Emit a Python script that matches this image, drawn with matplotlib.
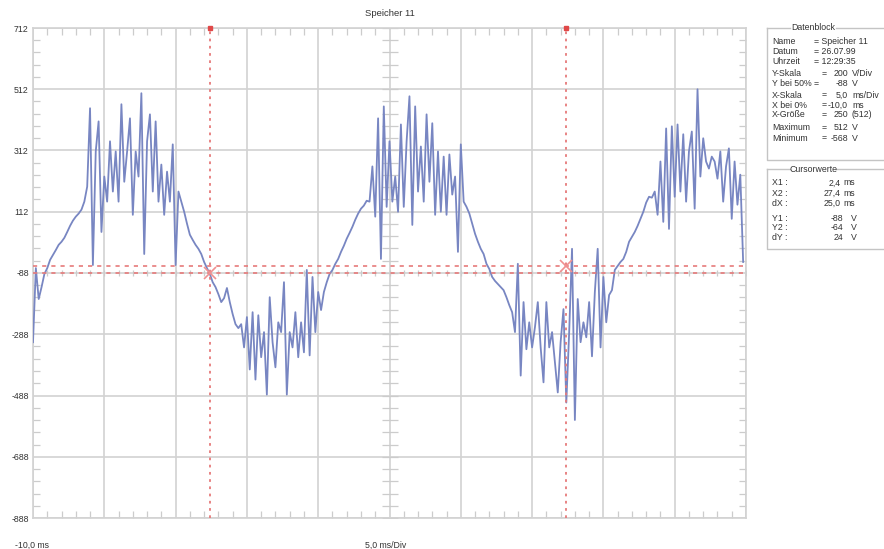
import matplotlib
matplotlib.use("Agg")
import matplotlib.pyplot as plt
import numpy as np

plt.rcParams["font.family"] = ["Liberation Sans", "DejaVu Sans"]

# scope settings
t_start = -10.0      # ms at left edge
t_div = 5.0          # ms per division
v_div = 200          # V per division
v_mid = -88          # V at 50 %
dt = 0.2             # ms per sample

# stored trace, 250 samples (V)
volts = [
    -314, -72, -173, -134, -91, -72, -45, -29, -13, 4,
    14, 27, 46, 66, 83, 96, 106, 119, 145, 194,
    450, -62, 309, 407, 46, 227, 145, 342, 178, 309,
    145, 463, 210, 309, 417, 102, 309, 227, 499, -26,
    342, 430, 178, 407, 145, 266, 102, 243, 145, 332,
    -62, 178, 145, 112, 73, 37, 20, 4, -9, -26,
    -52, -72, -91, -118, -134, -157, -183, -170, -137, -183,
    -222, -255, -268, -255, -331, -232, -403, -216, -436, -226,
    -363, -281, -485, -167, -314, -396, -249, -281, -118, -485,
    -281, -331, -216, -363, -249, -347, -78, -357, -101, -281,
    -150, -209, -150, -118, -91, -78, -58, -42, -19, 1,
    24, 43, 63, 86, 106, 122, 132, 148, 145, 260,
    96, 417, -42, 456, 128, 342, 145, 227, 112, 397,
    128, 342, 489, 69, 456, 178, 325, 145, 430, 210,
    401, 102, 309, 112, 292, 102, 299, 168, 227, -19,
    332, 145, 128, 106, 73, 40, 14, -9, -26, -58,
    -75, -101, -114, -124, -134, -144, -167, -193, -216, -281,
    -58, -423, -183, -337, -249, -331, -265, -183, -331, -445,
    -183, -331, -281, -380, -478, -314, -206, -511, -281, -9,
    -568, -173, -314, -249, -298, -183, -360, -150, -9, -331,
    -101, -249, -160, -144, -78, -65, -52, -42, -19, 14,
    30, 46, 66, 89, 112, 142, 161, 158, 178, 102,
    276, 79, 384, 56, 391, 161, 397, 178, 365, 145,
    309, 374, 122, 512, 227, 352, 276, 253, 292, 276,
    220, 309, 145, 260, 319, 89, 276, 135, 233, -52,
]

# cursors
x1, x2 = 2.4, 27.4
y1, y2 = -88, -64

# data block rows
block_rows = [
    ("Name", "= Speicher 11", "", ""),
    ("Datum", "= 26.07.99", "", ""),
    ("Uhrzeit", "= 12:29:35", "", ""),
    ("Y-Skala", "=", "200", "V/Div"),
    ("Y bei 50% =", "", "-88", "V"),
    ("X-Skala", "=", "5,0", "ms/Div"),
    ("X bei 0%", "=", "-10,0", "ms"),
    ("X-Größe", "=", "250", "(512)"),
    ("Maximum", "=", "512", "V"),
    ("Minimum", "=", "-568", "V"),
]

W, H = 884, 549
t = t_start + dt * np.arange(len(volts))
t_end = t_start + 10 * t_div
v_lo, v_hi = v_mid - 4 * v_div, v_mid + 4 * v_div


def fx(px):
    return px / W


def fy(py):
    return 1 - py / H


fig = plt.figure(figsize=(W / 100, H / 100), dpi=100)
ax = fig.add_axes([fx(33), fy(518), (746 - 33) / W, (518 - 28) / H])
ax.set_xlim(t_start, t_end)
ax.set_ylim(v_lo, v_hi)

grid_c = "#d2d2d2"
tick_c = "#cccccc"
txt_c = "#333333"
fs = 6.3

ax.set_xticks(np.arange(t_start, t_end + 0.01, t_div))
ax.set_yticks(np.arange(v_lo, v_hi + 1, v_div))
ax.set_xticks(np.arange(t_start, t_end + 0.01, t_div / 5), minor=True)
ax.set_yticks(np.arange(v_lo, v_hi + 1, v_div / 5), minor=True)
ax.set_xticklabels([])
ax.set_yticklabels([str(int(v)) for v in np.arange(v_lo, v_hi + 1, v_div)])
ax.tick_params(which="major", length=0, pad=3, labelsize=fs, labelcolor=txt_c)
ax.tick_params(which="minor", direction="in", length=5, width=0.9, color=tick_c,
               top=True, right=True)
ax.grid(True, which="major", color=grid_c, lw=1.2)
for s in ax.spines.values():
    s.set_color(grid_c)
    s.set_linewidth(1.2)

# small ticks along the centre lines
t_mid = t_start + 5 * t_div
xm = np.arange(t_start, t_end + 0.01, t_div / 5)
ym = np.arange(v_lo, v_hi + 1, v_div / 5)
ax.plot(xm, np.full(len(xm), v_mid), ls="none", marker="|", ms=5, mew=0.9, color=tick_c)
ax.plot(np.full(len(ym), t_mid), ym, ls="none", marker="_", ms=11, mew=0.9, color=tick_c)

# trace
ax.plot(t, volts, color="#7886c2", lw=1.3, zorder=3)

# cursor lines
cur_c = "#e67a7a"
for xc in (x1, x2):
    ax.axvline(xc, color=cur_c, ls=(0, (1.5, 2.5)), lw=1.3, zorder=4)
    ax.plot([xc], [v_hi], marker="s", ms=3, color="#e04848", clip_on=False, zorder=5)
for yc in (y1, y2):
    ax.axhline(yc, color=cur_c, ls=(0, (2.5, 3)), lw=1.2, zorder=4)
ax.plot([x1, x2], [y1, y2], ls="none", marker="x", ms=8, mew=1.2, color="#f09090", zorder=5)

fig.text(fx(390), fy(14), "Speicher 11", ha="center", va="center", fontsize=fs + 0.5, color=txt_c)
fig.text(fx(15), fy(545), "-10,0 ms", ha="left", va="center", fontsize=fs, color=txt_c)
fig.text(fx(365), fy(545), "5,0 ms/Div", ha="left", va="center", fontsize=fs, color=txt_c)

# data block panel
box_c = "#c4c4c4"


def panel(top, bottom, title):
    left, right = 767, 900
    fig.add_artist(plt.Line2D([fx(left), fx(left), fx(right)],
                              [fy(top), fy(bottom), fy(bottom)], color=box_c, lw=1))
    fig.add_artist(plt.Line2D([fx(left), fx(790)], [fy(top), fy(top)], color=box_c, lw=1))
    fig.add_artist(plt.Line2D([fx(836), fx(right)], [fy(top), fy(top)], color=box_c, lw=1))
    fig.text(fx(813), fy(top), title, ha="center", va="center", fontsize=fs, color=txt_c)


panel(28, 160, "Datenblock")
row_y = [41, 51, 61, 74, 84, 95, 105, 115, 128, 138]
for (lab, eq, val, unit), yy in zip(block_rows, row_y):
    fig.text(fx(772), fy(yy), lab, ha="left", va="center", fontsize=fs, color=txt_c)
    if val:
        if eq:
            fig.text(fx(822), fy(yy), eq, ha="left", va="center", fontsize=fs, color=txt_c)
        fig.text(fx(848), fy(yy), val, ha="right", va="center", fontsize=fs, color=txt_c)
        fig.text(fx(852), fy(yy), unit, ha="left", va="center", fontsize=fs, color=txt_c)
    else:
        fig.text(fx(814), fy(yy), eq, ha="left", va="center", fontsize=fs, color=txt_c)

panel(169, 249, "Cursorwerte")
cur_rows = [
    ("X1", f"{x1:.1f}".replace(".", ","), "ms", 183),
    ("X2", f"{x2:.1f}".replace(".", ","), "ms", 193),
    ("dX", f"{x2 - x1:.1f}".replace(".", ","), "ms", 203),
    ("Y1", f"{y1}", "V", 218),
    ("Y2", f"{y2}", "V", 228),
    ("dY", f"{y2 - y1}", "V", 238),
]
for lab, val, unit, yy in cur_rows:
    fig.text(fx(772), fy(yy), lab + " :", ha="left", va="center", fontsize=fs, color=txt_c)
    if unit == "ms":
        fig.text(fx(841), fy(yy), val, ha="right", va="center", fontsize=fs, color=txt_c)
        fig.text(fx(843), fy(yy), unit, ha="left", va="center", fontsize=fs, color=txt_c)
    else:
        fig.text(fx(843), fy(yy), val, ha="right", va="center", fontsize=fs, color=txt_c)
        fig.text(fx(851), fy(yy), unit, ha="left", va="center", fontsize=fs, color=txt_c)

fig.savefig("out.png", dpi=100)
